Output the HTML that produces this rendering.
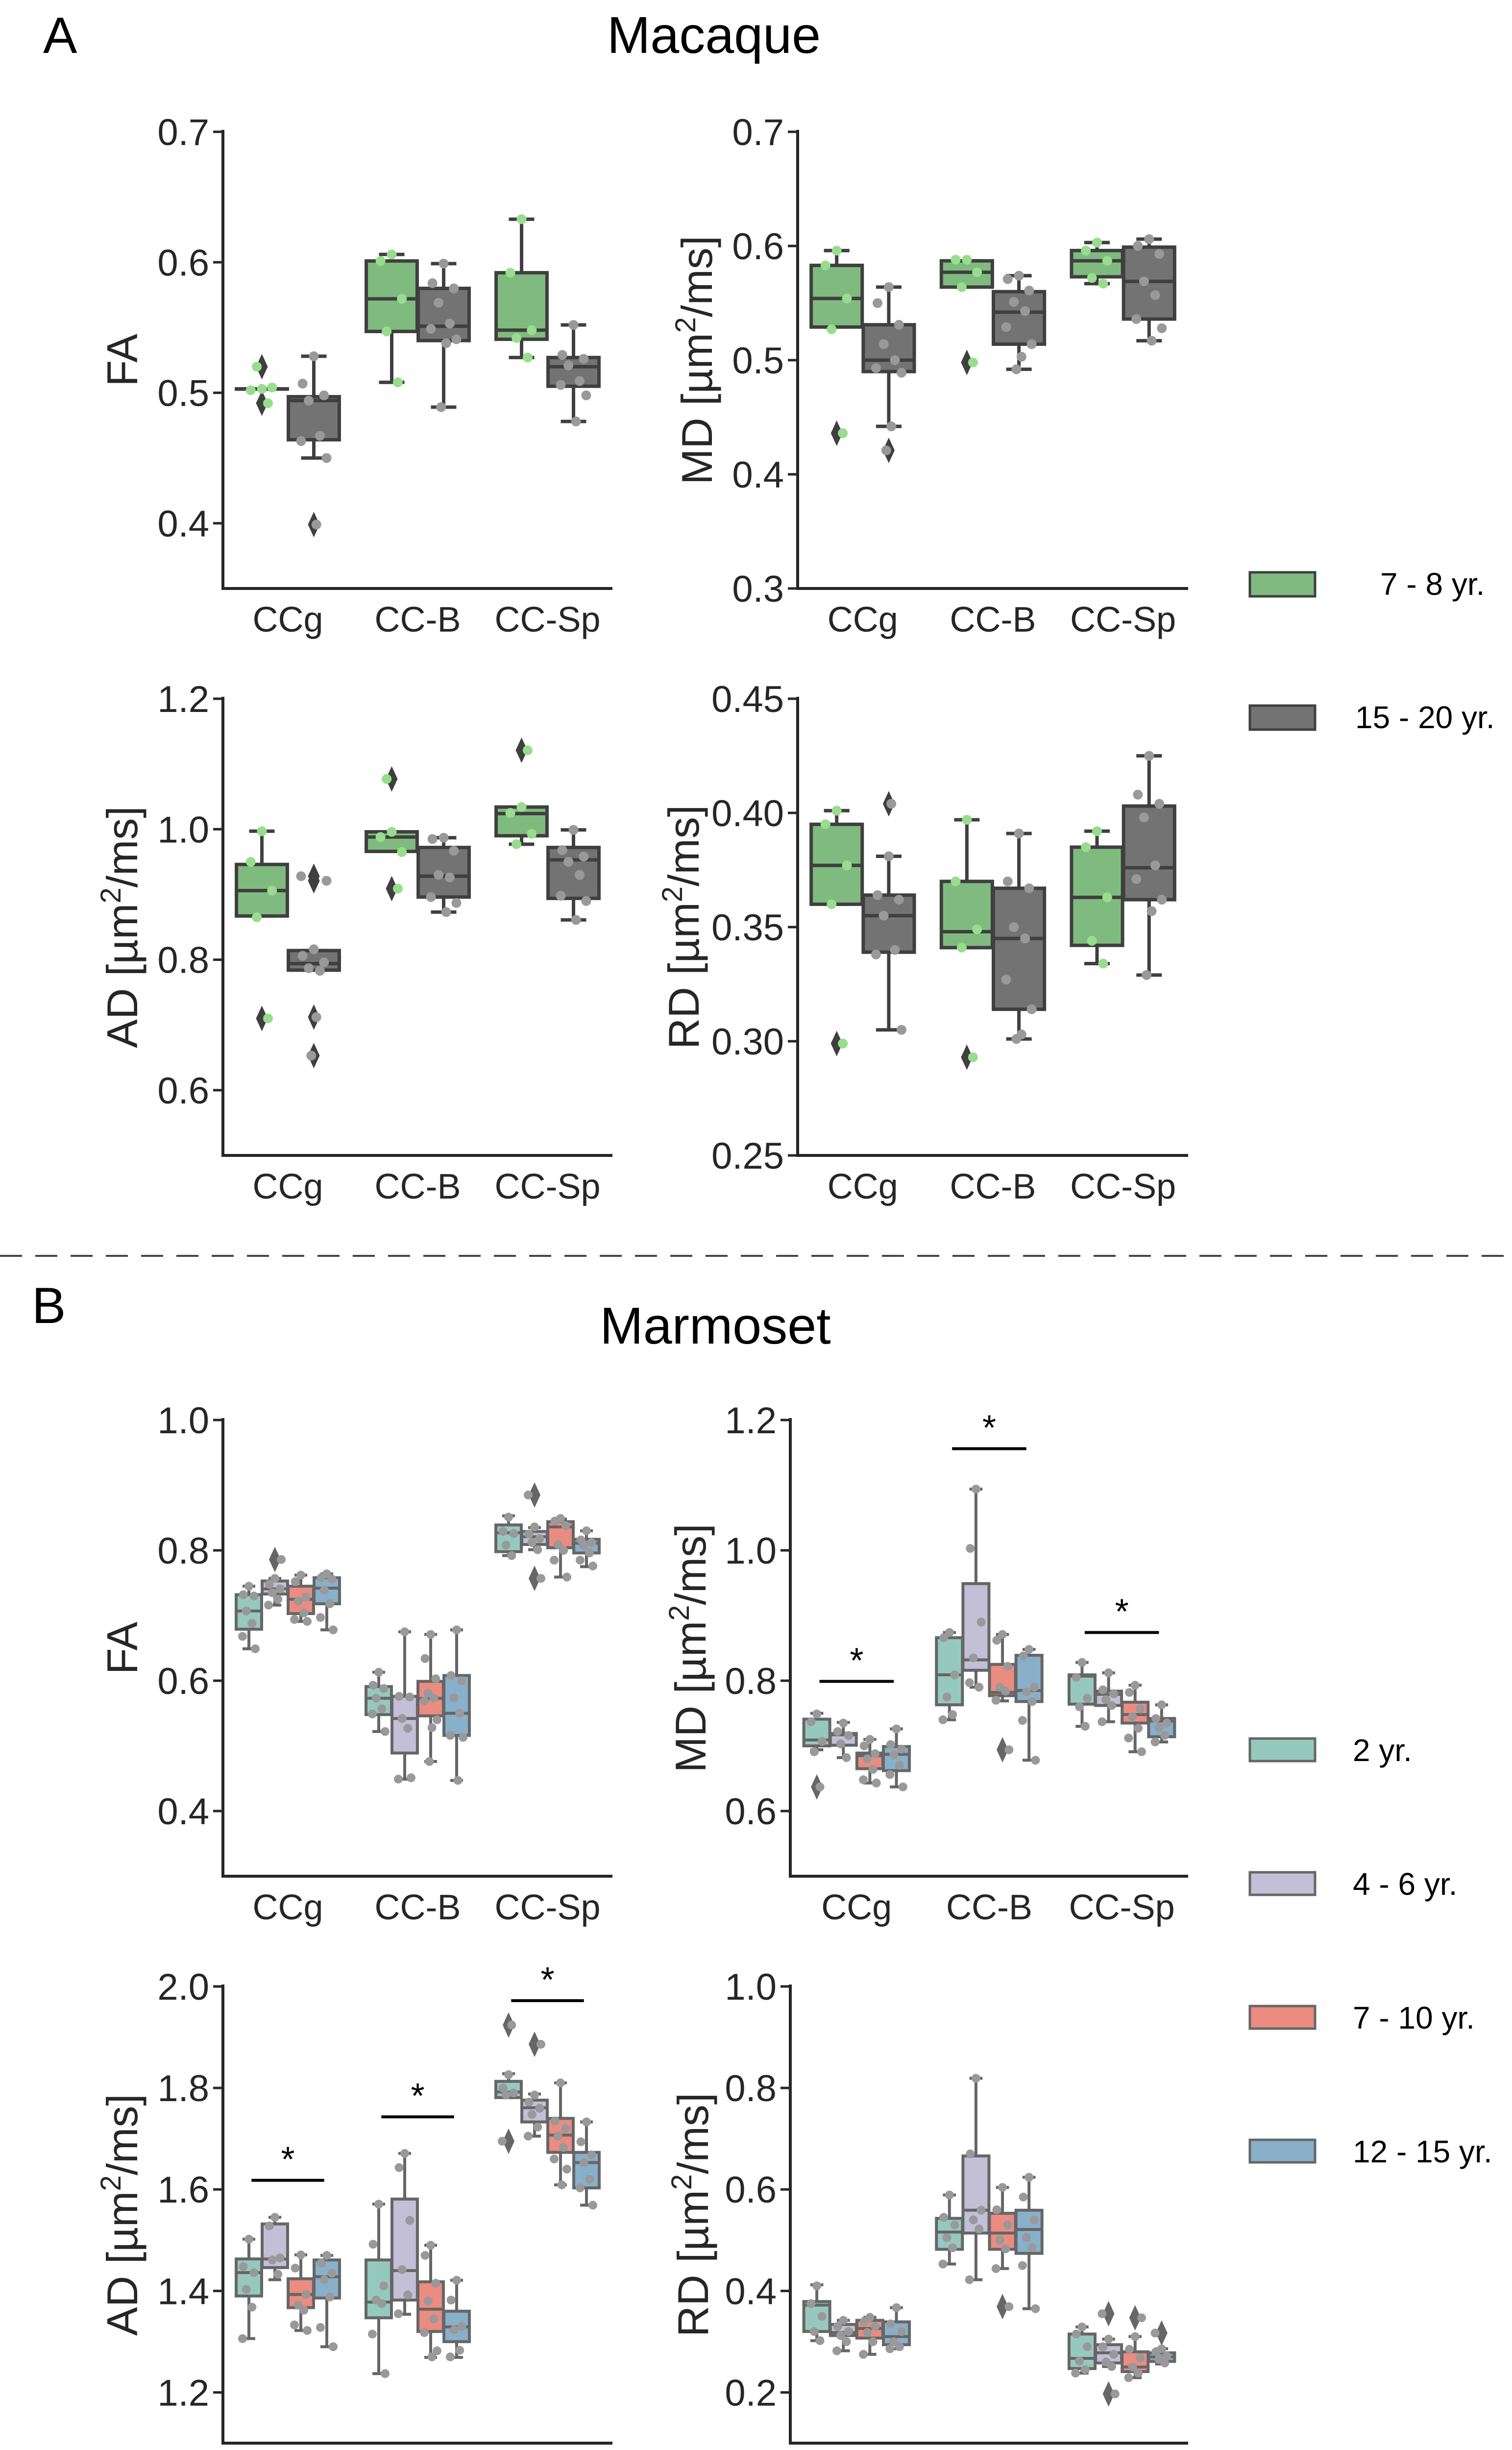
<!DOCTYPE html>
<html><head><meta charset="utf-8"><style>
html,body{margin:0;padding:0;background:#fff;width:3086px;height:5155px;overflow:hidden}
svg{display:block}
text{font-family:"Liberation Sans",Arial,sans-serif;fill:#262626}
</style></head><body>
<svg id="fig" xmlns="http://www.w3.org/2000/svg" width="3086" height="5155" viewBox="0 0 3086 5155">
<rect width="3086" height="5155" fill="#fff"/>
<text x="88" y="108" font-size="104" style="fill:#000">A</text>
<text x="1457" y="108" font-size="106" text-anchor="middle" style="fill:#000">Macaque</text>
<line x1="0" y1="2563" x2="3086" y2="2563" stroke="#444" stroke-width="4" stroke-dasharray="45 27"/>
<text x="65" y="2700" font-size="104" style="fill:#000">B</text>
<text x="1460" y="2742" font-size="106" text-anchor="middle" style="fill:#000">Marmoset</text>
<g id="plots"></g>
</svg>
<script>
const categories = ["CCg","CC-B","CC-Sp"];
const macHues = ["7 - 8 yr.","15 - 20 yr."];
const marHues = ["2 yr.","4 - 6 yr.","7 - 10 yr.","12 - 15 yr."];

const aFA_stats = [[0.503,0.503,0.503,0.503,0.503],[0.450,0.464,0.494,0.497,0.528],[0.508,0.547,0.572,0.601,0.606],[0.489,0.540,0.551,0.580,0.599],[0.527,0.541,0.548,0.592,0.633],[0.478,0.505,0.520,0.527,0.552]];
const aFA_out = [[0.520,0.492],[0.399],[],[],[],[]];
const aFA_pts = [[0.503,0.502,0.504,0.520,0.492],[0.528,0.507,0.498,0.494,0.467,0.463,0.450,0.399],[0.606,0.601,0.572,0.547,0.508],[0.599,0.584,0.580,0.569,0.553,0.549,0.541,0.538,0.489],[0.633,0.592,0.548,0.542,0.527],[0.552,0.529,0.526,0.521,0.509,0.506,0.498,0.478]];

const aMD_stats = [[0.529,0.529,0.554,0.583,0.596],[0.442,0.490,0.500,0.531,0.564],[0.564,0.564,0.577,0.587,0.587],[0.492,0.514,0.542,0.560,0.574],[0.567,0.573,0.587,0.596,0.603],[0.517,0.536,0.569,0.599,0.606]];
const aMD_out = [[0.436],[0.421],[0.498],[],[],[]];
const aMD_pts = [[0.596,0.583,0.554,0.527,0.436],[0.564,0.550,0.531,0.514,0.500,0.493,0.489,0.442,0.421],[0.588,0.588,0.577,0.564,0.498],[0.574,0.571,0.561,0.551,0.543,0.529,0.514,0.503,0.492],[0.603,0.596,0.587,0.572,0.567],[0.606,0.600,0.593,0.569,0.557,0.536,0.528,0.517]];

const aAD_stats = [[0.867,0.867,0.906,0.946,0.997],[0.784,0.784,0.794,0.814,0.814],[0.966,0.966,0.988,0.996,0.996],[0.873,0.896,0.928,0.972,0.987],[0.977,0.990,1.024,1.034,1.034],[0.861,0.894,0.953,0.972,0.999]];
const aAD_out = [[0.710],[0.928,0.921,0.712,0.653],[1.077,0.909],[],[1.121],[]];
const aAD_pts = [[0.997,0.950,0.906,0.865,0.710],[0.816,0.806,0.796,0.787,0.783,0.928,0.921,0.712,0.653],[0.996,0.988,0.965,1.077,0.909],[0.987,0.985,0.967,0.930,0.926,0.896,0.887,0.873],[1.034,1.025,0.993,0.977,1.121],[0.999,0.968,0.958,0.950,0.930,0.898,0.890,0.861]];

const aRD_stats = [[0.360,0.360,0.377,0.395,0.401],[0.305,0.339,0.355,0.364,0.381],[0.341,0.341,0.348,0.370,0.397],[0.301,0.314,0.345,0.367,0.391],[0.334,0.342,0.363,0.385,0.392],[0.329,0.362,0.376,0.403,0.425]];
const aRD_out = [[0.299],[0.404],[0.293],[],[],[]];
const aRD_pts = [[0.401,0.395,0.377,0.360,0.299],[0.381,0.364,0.362,0.355,0.340,0.338,0.305,0.404],[0.397,0.370,0.349,0.341,0.293],[0.391,0.370,0.367,0.350,0.345,0.327,0.314,0.303,0.301],[0.392,0.385,0.363,0.344,0.334],[0.425,0.408,0.404,0.398,0.377,0.371,0.362,0.357,0.329]];

const bFA_stats = [[0.649,0.679,0.707,0.732,0.745],[0.716,0.733,0.741,0.753,0.757],[0.691,0.703,0.725,0.745,0.762],[0.678,0.718,0.742,0.758,0.764],[0.522,0.548,0.573,0.591,0.613],[0.449,0.489,0.542,0.576,0.675],[0.476,0.546,0.573,0.599,0.671],[0.447,0.516,0.550,0.608,0.678],[0.792,0.798,0.827,0.839,0.853],[0.801,0.809,0.821,0.829,0.835],[0.759,0.804,0.836,0.844,0.848],[0.775,0.796,0.811,0.817,0.830]];
const bFA_out = [[],[0.786],[],[],[],[],[],[],[],[0.885,0.757],[],[]];
const bFA_pts = [[0.745,0.732,0.730,0.707,0.688,0.668,0.649],[0.757,0.748,0.741,0.735,0.725,0.716,0.786],[0.762,0.752,0.728,0.722,0.704,0.694,0.691],[0.764,0.758,0.756,0.739,0.718,0.697,0.678],[0.613,0.593,0.588,0.573,0.557,0.549,0.522],[0.675,0.576,0.575,0.542,0.527,0.449,0.451],[0.671,0.634,0.603,0.581,0.573,0.569,0.540,0.528,0.476],[0.678,0.608,0.600,0.574,0.550,0.516,0.513,0.447],[0.851,0.829,0.826,0.808,0.792],[0.836,0.825,0.818,0.812,0.801,0.885,0.757],[0.849,0.845,0.838,0.809,0.800,0.785,0.759],[0.830,0.816,0.812,0.807,0.796,0.785,0.776]];

const bMD_stats = [[0.694,0.700,0.709,0.741,0.750],[0.682,0.701,0.717,0.719,0.736],[0.643,0.665,0.685,0.689,0.710],[0.637,0.662,0.687,0.699,0.726],[0.740,0.763,0.809,0.866,0.874],[0.790,0.816,0.832,0.949,1.094],[0.769,0.777,0.782,0.825,0.871],[0.678,0.768,0.785,0.839,0.848],[0.730,0.764,0.807,0.809,0.828],[0.737,0.762,0.779,0.784,0.812],[0.691,0.735,0.748,0.767,0.793],[0.706,0.714,0.738,0.742,0.763]];
const bMD_out = [[0.637],[],[],[],[],[],[0.694],[],[],[],[],[]];
const bMD_pts = [[0.749,0.737,0.707,0.691,0.637],[0.735,0.722,0.716,0.703,0.682],[0.710,0.700,0.688,0.680,0.664,0.648,0.643],[0.726,0.702,0.695,0.686,0.670,0.656,0.637],[0.874,0.866,0.809,0.775,0.748,0.740],[1.094,1.003,0.890,0.835,0.790,0.797],[0.871,0.862,0.822,0.790,0.784,0.770,0.694],[0.848,0.838,0.790,0.783,0.768,0.739,0.678],[0.828,0.805,0.773,0.760,0.730],[0.812,0.786,0.780,0.771,0.762,0.737],[0.793,0.782,0.757,0.745,0.727,0.712,0.691],[0.763,0.742,0.735,0.728,0.716,0.706]];
const bMD_sig = [0.799,1.156,0.874];

const bAD_stats = [[1.306,1.390,1.436,1.463,1.502],[1.422,1.446,1.463,1.532,1.545],[1.322,1.367,1.393,1.424,1.471],[1.290,1.386,1.428,1.461,1.470],[1.237,1.347,1.378,1.461,1.571],[1.354,1.382,1.440,1.581,1.671],[1.269,1.320,1.364,1.418,1.490],[1.269,1.300,1.329,1.360,1.421],[1.781,1.781,1.792,1.813,1.828],[1.705,1.733,1.761,1.776,1.788],[1.609,1.673,1.707,1.740,1.810],[1.569,1.603,1.653,1.673,1.733]];
const bAD_out = [[],[],[],[],[],[],[],[],[1.924,1.695],[1.886],[],[]];
const bAD_pts = [[1.502,1.448,1.436,1.403,1.368,1.306],[1.545,1.528,1.465,1.461,1.433],[1.471,1.445,1.393,1.372,1.362,1.333,1.322],[1.470,1.455,1.435,1.422,1.388,1.328,1.290],[1.571,1.492,1.410,1.382,1.375,1.315,1.237],[1.671,1.643,1.539,1.442,1.392,1.355],[1.490,1.470,1.415,1.380,1.345,1.318,1.282,1.270],[1.421,1.382,1.330,1.323,1.283,1.270],[1.826,1.800,1.790,1.786,1.924,1.695],[1.786,1.772,1.760,1.748,1.723,1.705,1.886],[1.810,1.735,1.720,1.705,1.683,1.660,1.640,1.609],[1.733,1.694,1.668,1.653,1.620,1.603,1.569]];
const bAD_sig = [1.618,1.743,1.972];

const bRD_stats = [[0.302,0.320,0.372,0.379,0.412],[0.282,0.312,0.318,0.334,0.342],[0.275,0.307,0.326,0.342,0.348],[0.286,0.294,0.310,0.339,0.367],[0.453,0.482,0.516,0.543,0.589],[0.422,0.514,0.559,0.666,0.819],[0.444,0.482,0.514,0.553,0.604],[0.365,0.474,0.521,0.559,0.624],[0.238,0.247,0.267,0.315,0.329],[0.251,0.258,0.278,0.294,0.305],[0.229,0.241,0.250,0.280,0.310],[0.256,0.261,0.270,0.278,0.286]];
const bRD_out = [[],[],[],[],[],[],[0.369],[],[],[0.355,0.197],[0.347],[0.317]];
const bRD_pts = [[0.410,0.375,0.350,0.320,0.302],[0.342,0.330,0.320,0.312,0.300,0.282],[0.348,0.340,0.330,0.318,0.300,0.275],[0.367,0.335,0.320,0.300,0.290,0.286],[0.589,0.545,0.530,0.505,0.485,0.453],[0.819,0.670,0.559,0.540,0.522,0.422],[0.604,0.560,0.530,0.500,0.483,0.444,0.369],[0.624,0.585,0.540,0.505,0.485,0.450,0.365],[0.329,0.315,0.290,0.262,0.245,0.238],[0.305,0.290,0.275,0.260,0.251,0.355,0.197],[0.310,0.285,0.268,0.250,0.238,0.229,0.347],[0.286,0.280,0.272,0.265,0.258,0.317]];

const aFA_ticks = ["0.4","0.5","0.6","0.7"];
const aMD_ticks = ["0.3","0.4","0.5","0.6","0.7"];
const aAD_ticks = ["0.6","0.8","1.0","1.2"];
const aRD_ticks = ["0.25","0.30","0.35","0.40","0.45"];
const bFA_ticks = ["0.4","0.6","0.8","1.0"];
const bMD_ticks = ["0.6","0.8","1.0","1.2"];
const bAD_ticks = ["1.2","1.4","1.6","1.8","2.0"];
const bRD_ticks = ["0.2","0.4","0.6","0.8","1.0"];

const NS="http://www.w3.org/2000/svg";
const root=document.getElementById('plots');
function mk(tag,attrs,parent){const e=document.createElementNS(NS,tag);for(const k in attrs)e.setAttribute(k,attrs[k]);(parent||root).appendChild(e);return e;}
const jit=[0,-0.22,0.2,-0.1,0.12,-0.25,0.25,0.05,-0.05];

function panel(o){
  const g=mk('g',{});
  
  
  const x0=o.x0,x1=o.x1,yT=o.yT,yB=o.yB,ymin=o.ymin,ymax=o.ymax;
  const ys=v=>yB-(v-ymin)/(ymax-ymin)*(yB-yT);
  const unit=(x1-x0)/3;
  const xs=c=>x0+(c+0.5)*unit;
  const nh=o.colors.length;
  const bw=0.8/nh;
  const ec=o.edge;
  for(let c=0;c<3;c++){for(let h=0;h<nh;h++){
    const i=c*nh+h, s=o.stats[i];
    const cx=xs(c-0.4+bw*(h+0.5)); const w=bw*unit*0.98;
    const bg=mk('g',{},g);
    
    
    mk('line',{x1:cx,x2:cx,y1:ys(s[0]),y2:ys(s[1]),stroke:ec,'stroke-width':o.lw},bg);
    mk('line',{x1:cx,x2:cx,y1:ys(s[3]),y2:ys(s[4]),stroke:ec,'stroke-width':o.lw},bg);
    mk('line',{x1:cx-w/4,x2:cx+w/4,y1:ys(s[0]),y2:ys(s[0]),stroke:ec,'stroke-width':o.lw},bg);
    mk('line',{x1:cx-w/4,x2:cx+w/4,y1:ys(s[4]),y2:ys(s[4]),stroke:ec,'stroke-width':o.lw},bg);
    mk('rect',{x:cx-w/2,y:ys(s[3]),width:w,height:Math.max(ys(s[1])-ys(s[3]),0.5),fill:o.colors[h],stroke:ec,'stroke-width':o.lw},bg);
    mk('line',{x1:cx-w/2,x2:cx+w/2,y1:ys(s[2]),y2:ys(s[2]),stroke:ec,'stroke-width':o.lw},bg);
    o.out[i].forEach(v=>{const y=ys(v);mk('path',{d:`M${cx} ${y-26}L${cx+12} ${y}L${cx} ${y+26}L${cx-12} ${y}Z`,fill:ec},bg);});
    o.pts[i].forEach((v,k)=>{const d=mk('circle',{cx:cx+jit[k%jit.length]*w,cy:ys(v),r:o.r,fill:o.ptc[h]},bg);
      
      });
  }}
  if(o.sig){o.sig.forEach((v,c)=>{const y=ys(v);
    const l=mk('line',{x1:xs(c)-0.28*unit,x2:xs(c)+0.28*unit,y1:y,y2:y,stroke:'#000','stroke-width':6},g);
    
    
    const t=mk('text',{x:xs(c),y:y-18,'font-size':72,'text-anchor':'middle',style:'fill:#000'},g);t.textContent='*';
    
    });}
  mk('line',{x1:x0,x2:x0,y1:yT-4,y2:yB+3,stroke:'#262626','stroke-width':6},g);
  mk('line',{x1:x0-3,x2:x1,y1:yB,y2:yB,stroke:'#262626','stroke-width':6},g);
  o.ticks.forEach(t=>{const y=ys(parseFloat(t));
    mk('line',{x1:x0-20,x2:x0,y1:y,y2:y,stroke:'#262626','stroke-width':5},g);
    const tx=mk('text',{x:x0-28,y:y+27,'font-size':76,'text-anchor':'end'},g);tx.textContent=t;
    
    });
  categories.forEach((c,i)=>{const tx=mk('text',{x:xs(i),y:yB+88,'font-size':72,'text-anchor':'middle'},g);tx.textContent=c;
    
    });
  const tx=o.x0-o.tOff, ty=(yT+yB)/2;
  const tt=mk('text',{x:tx,y:ty,'font-size':88,'text-anchor':'middle',transform:`rotate(-90 ${tx} ${ty}) translate(0 30)`},g);
  
  
  if(o.unit){tt.appendChild(document.createTextNode(o.title+' [\u00b5m'));
    const sp=mk('tspan',{'font-size':58,dy:-34},tt);sp.textContent='2';
    const sp2=mk('tspan',{dy:34},tt);sp2.textContent='/ms]';}
  else tt.textContent=o.title;
}
const mc=["#7fbb7f","#737373"], mp=["#98dd8e","#999999"];
const bc=["#96c9bd","#c2bfd7","#ec8b80","#88b0cb"], bp=["#999","#999","#999","#999"];
const L=[455,1250], R=[1628,2425], RB=[1613,2425];
const common={lw:7,r:10};
panel({...common,name:'macaque-fa-chart',x0:L[0],x1:L[1],yT:269,yB:1201,ymin:0.35,ymax:0.7,stats:aFA_stats,out:aFA_out,pts:aFA_pts,ticks:aFA_ticks,colors:mc,ptc:mp,edge:'#3f3f3f',title:'FA',tOff:205});
panel({...common,name:'macaque-md-chart',x0:R[0],x1:R[1],yT:269,yB:1201,ymin:0.3,ymax:0.7,stats:aMD_stats,out:aMD_out,pts:aMD_pts,ticks:aMD_ticks,colors:mc,ptc:mp,edge:'#3f3f3f',title:'MD',unit:1,tOff:205});
panel({...common,name:'macaque-ad-chart',x0:L[0],x1:L[1],yT:1426,yB:2358,ymin:0.5,ymax:1.2,stats:aAD_stats,out:aAD_out,pts:aAD_pts,ticks:aAD_ticks,colors:mc,ptc:mp,edge:'#3f3f3f',title:'AD',unit:1,tOff:205});
panel({...common,name:'macaque-rd-chart',x0:R[0],x1:R[1],yT:1426,yB:2358,ymin:0.25,ymax:0.45,stats:aRD_stats,out:aRD_out,pts:aRD_pts,ticks:aRD_ticks,colors:mc,ptc:mp,edge:'#3f3f3f',title:'RD',unit:1,tOff:232});
const cb={lw:6,r:9};
panel({...cb,name:'marmoset-fa-chart',x0:L[0],x1:L[1],yT:2898,yB:3829,ymin:0.3,ymax:1.0,stats:bFA_stats,out:bFA_out,pts:bFA_pts,ticks:bFA_ticks,colors:bc,ptc:bp,edge:'#666666',title:'FA',tOff:205});
panel({...cb,name:'marmoset-md-chart',x0:RB[0],x1:RB[1],yT:2898,yB:3829,ymin:0.5,ymax:1.2,stats:bMD_stats,out:bMD_out,pts:bMD_pts,ticks:bMD_ticks,colors:bc,ptc:bp,edge:'#666666',title:'MD',unit:1,tOff:203,sig:bMD_sig});
panel({...cb,name:'marmoset-ad-chart',x0:L[0],x1:L[1],yT:4054,yB:4986,ymin:1.1,ymax:2.0,stats:bAD_stats,out:bAD_out,pts:bAD_pts,ticks:bAD_ticks,colors:bc,ptc:bp,edge:'#666666',title:'AD',unit:1,tOff:205,sig:bAD_sig});
panel({...cb,name:'marmoset-rd-chart',x0:RB[0],x1:RB[1],yT:4054,yB:4986,ymin:0.1,ymax:1.0,stats:bRD_stats,out:bRD_out,pts:bRD_pts,ticks:bRD_ticks,colors:bc,ptc:bp,edge:'#666666',title:'RD',unit:1,tOff:198});

const legA_y=[1168,1440], legA_x=[2817,2766];
macHues.forEach((h,i)=>{
  const r=mk('rect',{x:2551,y:legA_y[i],width:133,height:49,fill:mc[i],stroke:'#3f3f3f','stroke-width':5});
  
  
  const t=mk('text',{x:legA_x[i],y:legA_y[i]+46,'font-size':64,style:'fill:#000'});t.textContent=h;
  
  
});
const legB_y=[3548,3821,4094,4367];
marHues.forEach((h,i)=>{
  const r=mk('rect',{x:2551,y:legB_y[i],width:133,height:46,fill:bc[i],stroke:'#666','stroke-width':5});
  
  
  const t=mk('text',{x:2761,y:legB_y[i]+46,'font-size':64,style:'fill:#000'});t.textContent=h;
  
  
});
</script>
</body></html>
